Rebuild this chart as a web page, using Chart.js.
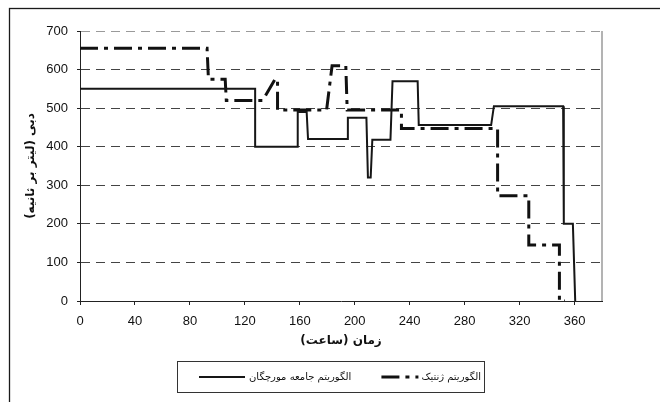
<!DOCTYPE html>
<html>
<head>
<meta charset="utf-8">
<script src="https://cdn.jsdelivr.net/npm/chart.js@4/dist/chart.umd.min.js"></script>
<style>
  html, body { margin: 0; padding: 0; background: #fff; }
  canvas { display: block; }
</style>
</head>
<body>
<canvas id="flowChart" width="660" height="402" dir="rtl"></canvas>
<script>
// Axis tick values
const hourTicks = [0, 40, 80, 120, 160, 200, 240, 280, 320, 360];
const flowTicks = [0, 100, 200, 300, 400, 500, 600, 700];

// Ant colony algorithm release schedule (hour, flow)
const antHours = [0, 127.5, 127.5, 158.5, 158.5, 165, 166, 194.5, 195, 208.5, 209.6, 211.6, 212.8, 226, 227.5, 245.8, 246.6, 299.3, 301.3, 351.7, 352.2, 358.8, 360.5];
const antFlow  = [550, 550, 400, 400, 490, 490, 420, 420, 475, 475, 320, 320, 418, 418, 570, 570, 456, 456, 505, 505, 200, 200, 0];

// Genetic algorithm release schedule (hour, flow)
const gaHours = [0, 92.5, 93.5, 105.7, 106.5, 133, 142, 143.8, 143.8, 179.5, 183.5, 193.5, 194.5, 234, 234, 304, 304, 326.7, 326.7, 349, 349, 353];
const gaFlow  = [655, 655, 575, 575, 520, 520, 575, 575, 495, 495, 610, 610, 495, 495, 447, 447, 273, 273, 145, 145, 0, 0];

const seriesNames = ['الگوریتم جامعه مورچگان', 'الگوریتم ژنتیک'];
const xTitle = 'زمان (ساعت)';
const yTitle = 'دبی (لیتر بر ثانیه)';

const toPoints = (xs, ys) => xs.map((x, i) => ({ x: x, y: ys[i] }));

// Frame around the figure, right edge of the plot, and the boxed legend
const decorations = {
  id: 'decorations',
  afterDraw(chart) {
    const ctx = chart.ctx;
    const area = chart.chartArea;
    ctx.save();
    // outer figure frame
    ctx.strokeStyle = '#1a1a1a';
    ctx.lineWidth = 1.3;
    ctx.setLineDash([]);
    ctx.strokeRect(9.5, 8.5, 720, 440);
    // right border of plot area
    ctx.strokeStyle = '#9a9a9a';
    ctx.lineWidth = 1.5;
    ctx.beginPath();
    ctx.moveTo(area.right, area.top);
    ctx.lineTo(area.right, area.bottom);
    ctx.stroke();
    // legend box
    ctx.strokeStyle = '#333';
    ctx.lineWidth = 1;
    ctx.strokeRect(177.5, 361.5, 307, 31);

    const ds = chart.data.datasets;
    const rowY = 377;
    ctx.font = '10px "DejaVu Sans"';
    ctx.fillStyle = '#111';
    ctx.textBaseline = 'middle';
    ctx.direction = 'rtl';

    const drawSample = (d, x0, x1) => {
      ctx.save();
      ctx.strokeStyle = d.borderColor;
      ctx.lineWidth = d.borderWidth;
      ctx.setLineDash(d.borderDash || []);
      ctx.lineCap = 'butt';
      ctx.beginPath();
      ctx.moveTo(x0, rowY);
      ctx.lineTo(x1, rowY);
      ctx.stroke();
      ctx.restore();
    };

    ctx.textAlign = 'left';
    // first entry: key then label
    drawSample(ds[0], 199, 245);
    ctx.fillText(ds[0].label, 249, rowY);

    // second entry: key then label, label ending near the box edge
    const gW = ctx.measureText(ds[1].label).width;
    const gLeft = 481 - gW;
    drawSample(ds[1], gLeft - 40, gLeft - 3);
    ctx.fillText(ds[1].label, gLeft, rowY);
    ctx.restore();
  }
};

new Chart(document.getElementById('flowChart'), {
  type: 'line',
  data: {
    datasets: [
      {
        label: seriesNames[0],
        data: toPoints(antHours, antFlow),
        borderColor: '#161616',
        borderWidth: 2,
        pointRadius: 0,
        tension: 0,
        fill: false
      },
      {
        label: seriesNames[1],
        data: toPoints(gaHours, gaFlow),
        borderColor: '#111111',
        borderWidth: 3,
        borderDash: [18, 6, 4, 6],
        borderCapStyle: 'butt',
        pointRadius: 0,
        tension: 0,
        fill: false
      }
    ]
  },
  options: {
    responsive: false,
    animation: false,
    devicePixelRatio: 1,
    layout: { padding: { left: 0, top: 31, right: 58, bottom: 0 } },
    plugins: { legend: { display: false }, tooltip: { enabled: false } },
    scales: {
      x: {
        type: 'linear',
        min: 0,
        max: 380,
        afterBuildTicks: s => { s.ticks = hourTicks.map(v => ({ value: v })); },
        afterFit: s => { s.height = 101; },
        grid: { drawOnChartArea: false, drawTicks: true, tickLength: 4, tickColor: '#222', tickWidth: 1 },
        border: { color: '#222', width: 1 },
        ticks: {
          autoSkip: false, maxRotation: 0, padding: 9,
          color: '#111',
          font: { family: '"Liberation Sans", Arial, sans-serif', size: 13 }
        },
        title: {
          display: true, text: xTitle, color: '#111',
          font: { family: '"DejaVu Sans"', size: 12, weight: 'bold' },
          padding: { top: 0, bottom: 54 }
        }
      },
      y: {
        min: 0,
        max: 700,
        afterBuildTicks: s => { s.ticks = flowTicks.map(v => ({ value: v })); },
        afterFit: s => { s.width = 80; },
        grid: {
          drawTicks: true, tickLength: 3, tickColor: '#222', tickBorderDash: [],
          color: c => (c.tick && c.tick.value === 0) ? 'rgba(0,0,0,0)' : (c.tick && c.tick.value === 700 ? '#9a9a9a' : '#444')
        },
        border: { color: '#222', width: 1, dash: [9, 6] },
        ticks: {
          padding: 9, color: '#111',
          font: { family: '"Liberation Sans", Arial, sans-serif', size: 13 }
        },
        title: {
          display: true, text: yTitle, color: '#111',
          font: { family: '"DejaVu Sans"', size: 12, weight: 'bold' },
          padding: { top: 24, bottom: 0 }
        }
      }
    }
  },
  plugins: [decorations]
});
</script>
</body>
</html>
